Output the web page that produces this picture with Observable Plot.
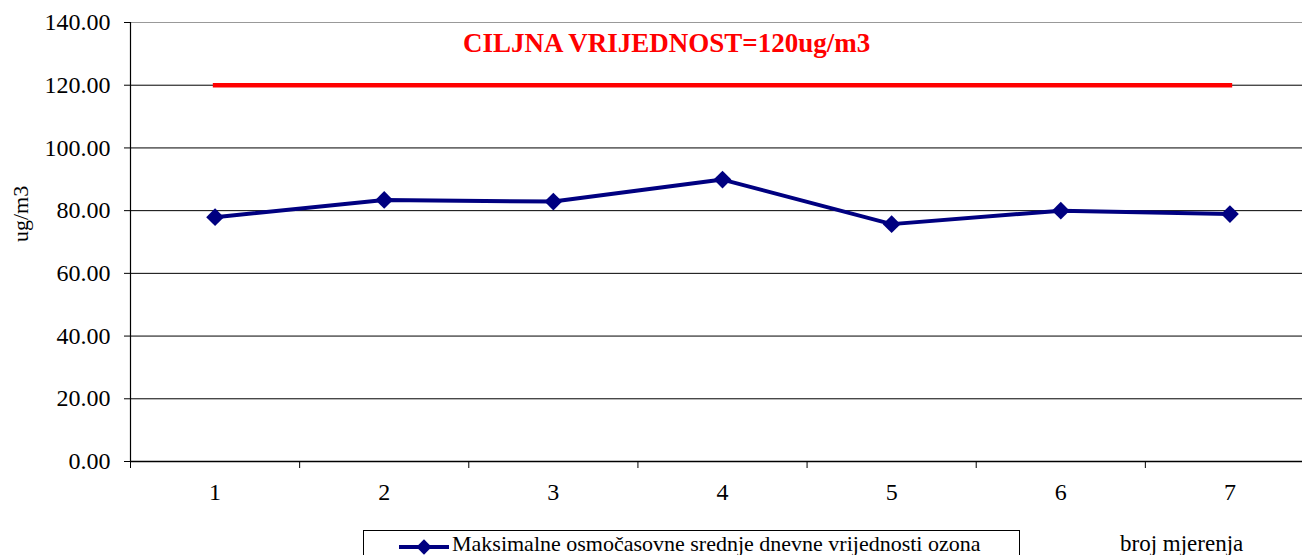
<!DOCTYPE html>
<html>
<head>
<meta charset="utf-8">
<script src="https://cdn.jsdelivr.net/npm/d3@7"></script>
<script src="https://cdn.jsdelivr.net/npm/@observablehq/plot@0.6"></script>
<style>
  html, body { margin: 0; padding: 0; background: #fff; }
  #wrap { position: relative; width: 1302px; height: 555px; overflow: hidden; font-family: "Liberation Serif", "Times New Roman", serif; }
  #chart svg { display: block; }
  .ov { position: absolute; white-space: nowrap; line-height: 1; font-family: "Liberation Serif", "Times New Roman", serif; }
  #title { left: 463px; top: 30px; font-size: 27px; font-weight: bold; color: #ff0000; }
  #legend { left: 363px; top: 530px; width: 657px; height: 40px; border: 1px solid #000; box-sizing: border-box; background: #fff; }
  #legend svg { position: absolute; left: 34px; top: 4px; }
  #legend span { position: absolute; left: 88px; top: 2px; font-size: 22px; line-height: 1; }
  #xlabel { left: 1120px; top: 532px; font-size: 23px; }
</style>
</head>
<body>
<div id="wrap">
  <div id="chart"></div>
  <div id="title" class="ov"></div>
  <div id="legend" class="ov"><svg width="52" height="24"></svg><span></span></div>
  <div id="xlabel" class="ov"></div>
</div>
<script>
// ---- data ----
const categories = [1, 2, 3, 4, 5, 6, 7];
const ozone = [77.9, 83.4, 82.9, 89.9, 75.7, 80.0, 78.9];
const targetValue = 120;
const yTicks = [0, 20, 40, 60, 80, 100, 120, 140];
const seriesName = "Maksimalne osmočasovne srednje dnevne vrijednosti ozona";
const targetLabel = "CILJNA VRIJEDNOST=120ug/m3";
const yLabel = "ug/m3";
const xLabel = "broj mjerenja";

// ---- derived tables ----
const data = categories.map((c, i) => ({x: c, y: ozone[i]}));
const target = categories.map(c => ({x: c, y: targetValue}));
const boundaries = [...categories.map(c => c - 0.5), categories[categories.length - 1] + 0.5];

const navy = "#000080";
const serif = "'Liberation Serif', 'Times New Roman', serif";

const chart = Plot.plot({
  width: 1302,
  height: 555,
  marginTop: 22,
  marginBottom: 94,
  marginLeft: 130,
  marginRight: 0,
  style: {fontFamily: serif, fontSize: "24px", color: "#000", background: "#fff"},
  x: {type: "linear", domain: [boundaries[0], boundaries[boundaries.length - 1]], range: [130, 1314]},
  y: {domain: [0, 140]},
  marks: [
    Plot.ruleY(yTicks.filter(v => v > 0 && v < 140), {stroke: "#000", strokeWidth: 1}),
    Plot.ruleY([140], {stroke: "#999", strokeWidth: 1}),
    Plot.ruleY([0], {stroke: "#000", strokeWidth: 1.5}),
    Plot.ruleX([boundaries[0]], {stroke: "#000", strokeWidth: 1.2}),
    Plot.axisY(yTicks, {tickFormat: d => d.toFixed(2), tickSize: 6, tickPadding: 14, label: null, fontSize: 24, fontFamily: serif}),
    Plot.axisX(boundaries, {tickSize: 7, tickFormat: () => "", label: null}),
    Plot.axisX(categories, {tickSize: 0, tickPadding: 21, tickFormat: d => String(d), label: null, fontSize: 24, fontFamily: serif}),
    Plot.line(target, {x: "x", y: "y", stroke: "#ff0000", strokeWidth: 4.5, strokeLinecap: "square"}),
    Plot.line(data, {x: "x", y: "y", stroke: navy, strokeWidth: 4}),
    Plot.dot(data, {x: "x", y: "y", symbol: "diamond2", r: 8, fill: navy, stroke: "none"}),
    Plot.text([yLabel], {frameAnchor: "left", rotate: -90, dx: -110, fontSize: 22, fontFamily: serif, fill: "#000"})
  ]
});
document.getElementById("chart").appendChild(chart);

document.getElementById("title").textContent = targetLabel;
document.getElementById("xlabel").textContent = xLabel;
document.querySelector("#legend span").textContent = seriesName;

// legend sample
const lg = d3.select("#legend svg");
lg.append("line").attr("x1", 1).attr("x2", 51).attr("y1", 12).attr("y2", 12)
  .attr("stroke", navy).attr("stroke-width", 4);
lg.append("path").attr("d", d3.symbol(d3.symbolDiamond2, 150)())
  .attr("transform", "translate(26,12)").attr("fill", navy);
</script>
</body>
</html>
